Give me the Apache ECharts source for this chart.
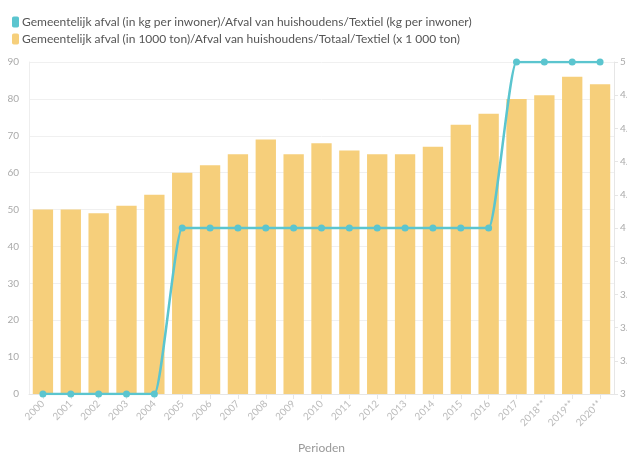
<!DOCTYPE html>
<html><head><meta charset="utf-8">
<script src="https://cdn.jsdelivr.net/npm/echarts@6/dist/echarts.min.js"></script>
<style>html,body{margin:0;padding:0;background:#fff}#c{width:627px;height:452px}</style>
</head><body><div id="c"></div>
<script>
const categories = ["2000","2001","2002","2003","2004","2005","2006","2007","2008","2009","2010","2011","2012","2013","2014","2015","2016","2017","2018**","2019**","2020**"];
const totaalTextiel = [50,50,49,51,54,60,62,65,69,65,68,66,65,65,67,73,76,80,81,86,84];
const kgPerInwoner = [3,3,3,3,3,4,4,4,4,4,4,4,4,4,4,4,4,5,5,5,5];
const leftTicks = {min:0, max:90, interval:10};
const rightTicks = {min:3, max:5, interval:0.2};
const nameLine = "Gemeentelijk afval (in kg per inwoner)/Afval van huishoudens/Textiel (kg per inwoner)";
const nameBar = "Gemeentelijk afval (in 1000 ton)/Afval van huishoudens/Totaal/Textiel (x 1 000 ton)";

const chart = echarts.init(document.getElementById('c'));
const font = 'Lato, "Open Sans", sans-serif';
chart.setOption({
  animation:false,
  textStyle:{fontFamily:font},
  legend:{
    orient:'vertical', left:7, top:11, itemWidth:7, itemHeight:11, itemGap:5,
    icon:'roundRect',
    textStyle:{fontFamily:font, fontSize:12, color:'#555', padding:[0,0,0,-2]},
    data:[nameLine, nameBar]
  },
  grid:{left:29, right:13, top:62, bottom:58, containLabel:false, outerBoundsMode:'none'},
  xAxis:{
    type:'category', data:categories,
    name:'Perioden', nameLocation:'middle', nameGap:48,
    nameTextStyle:{color:'#999', fontSize:12, fontFamily:font},
    axisLine:{lineStyle:{color:'#e6e6e6'}},
    axisTick:{show:true, alignWithLabel:true, lineStyle:{color:'#e6e6e6'}},
    axisLabel:{rotate:45, color:'#bbb', fontSize:10, interval:0, fontFamily:font, margin:8},
    splitLine:{show:false}
  },
  yAxis:[
    {type:'value', min:leftTicks.min, max:leftTicks.max, interval:leftTicks.interval,
     axisLine:{show:true, lineStyle:{color:'#eeeeee'}},
     axisTick:{show:false},
     axisLabel:{color:'#aaa', fontSize:10, fontFamily:font, margin:10},
     splitLine:{lineStyle:{color:'#f0f0f0'}}},
    {type:'value', min:rightTicks.min, max:rightTicks.max, interval:rightTicks.interval,
     position:'right',
     axisLine:{show:true, lineStyle:{color:'#e6e6e6'}},
     axisTick:{show:true, length:4, lineStyle:{color:'#e6e6e6'}},
     axisLabel:{color:'#aaa', fontSize:10, fontFamily:font, margin:6,
       formatter:v=>String(Math.round(v*10)/10)},
     splitLine:{show:false}}
  ],
  series:[
    {name:nameLine, type:'line', yAxisIndex:1, data:kgPerInwoner, z:3,
     smooth:0.25, smoothMonotone:'x',
     symbol:'circle', symbolSize:7,
     itemStyle:{color:'#5bc5cf'}, lineStyle:{color:'#5bc5cf', width:2.5}},
    {name:nameBar, type:'bar', yAxisIndex:0, data:totaalTextiel, z:2,
     barCategoryGap:'27%',
     itemStyle:{color:'#f6cf7b'}}
  ]
});
</script></body></html>
